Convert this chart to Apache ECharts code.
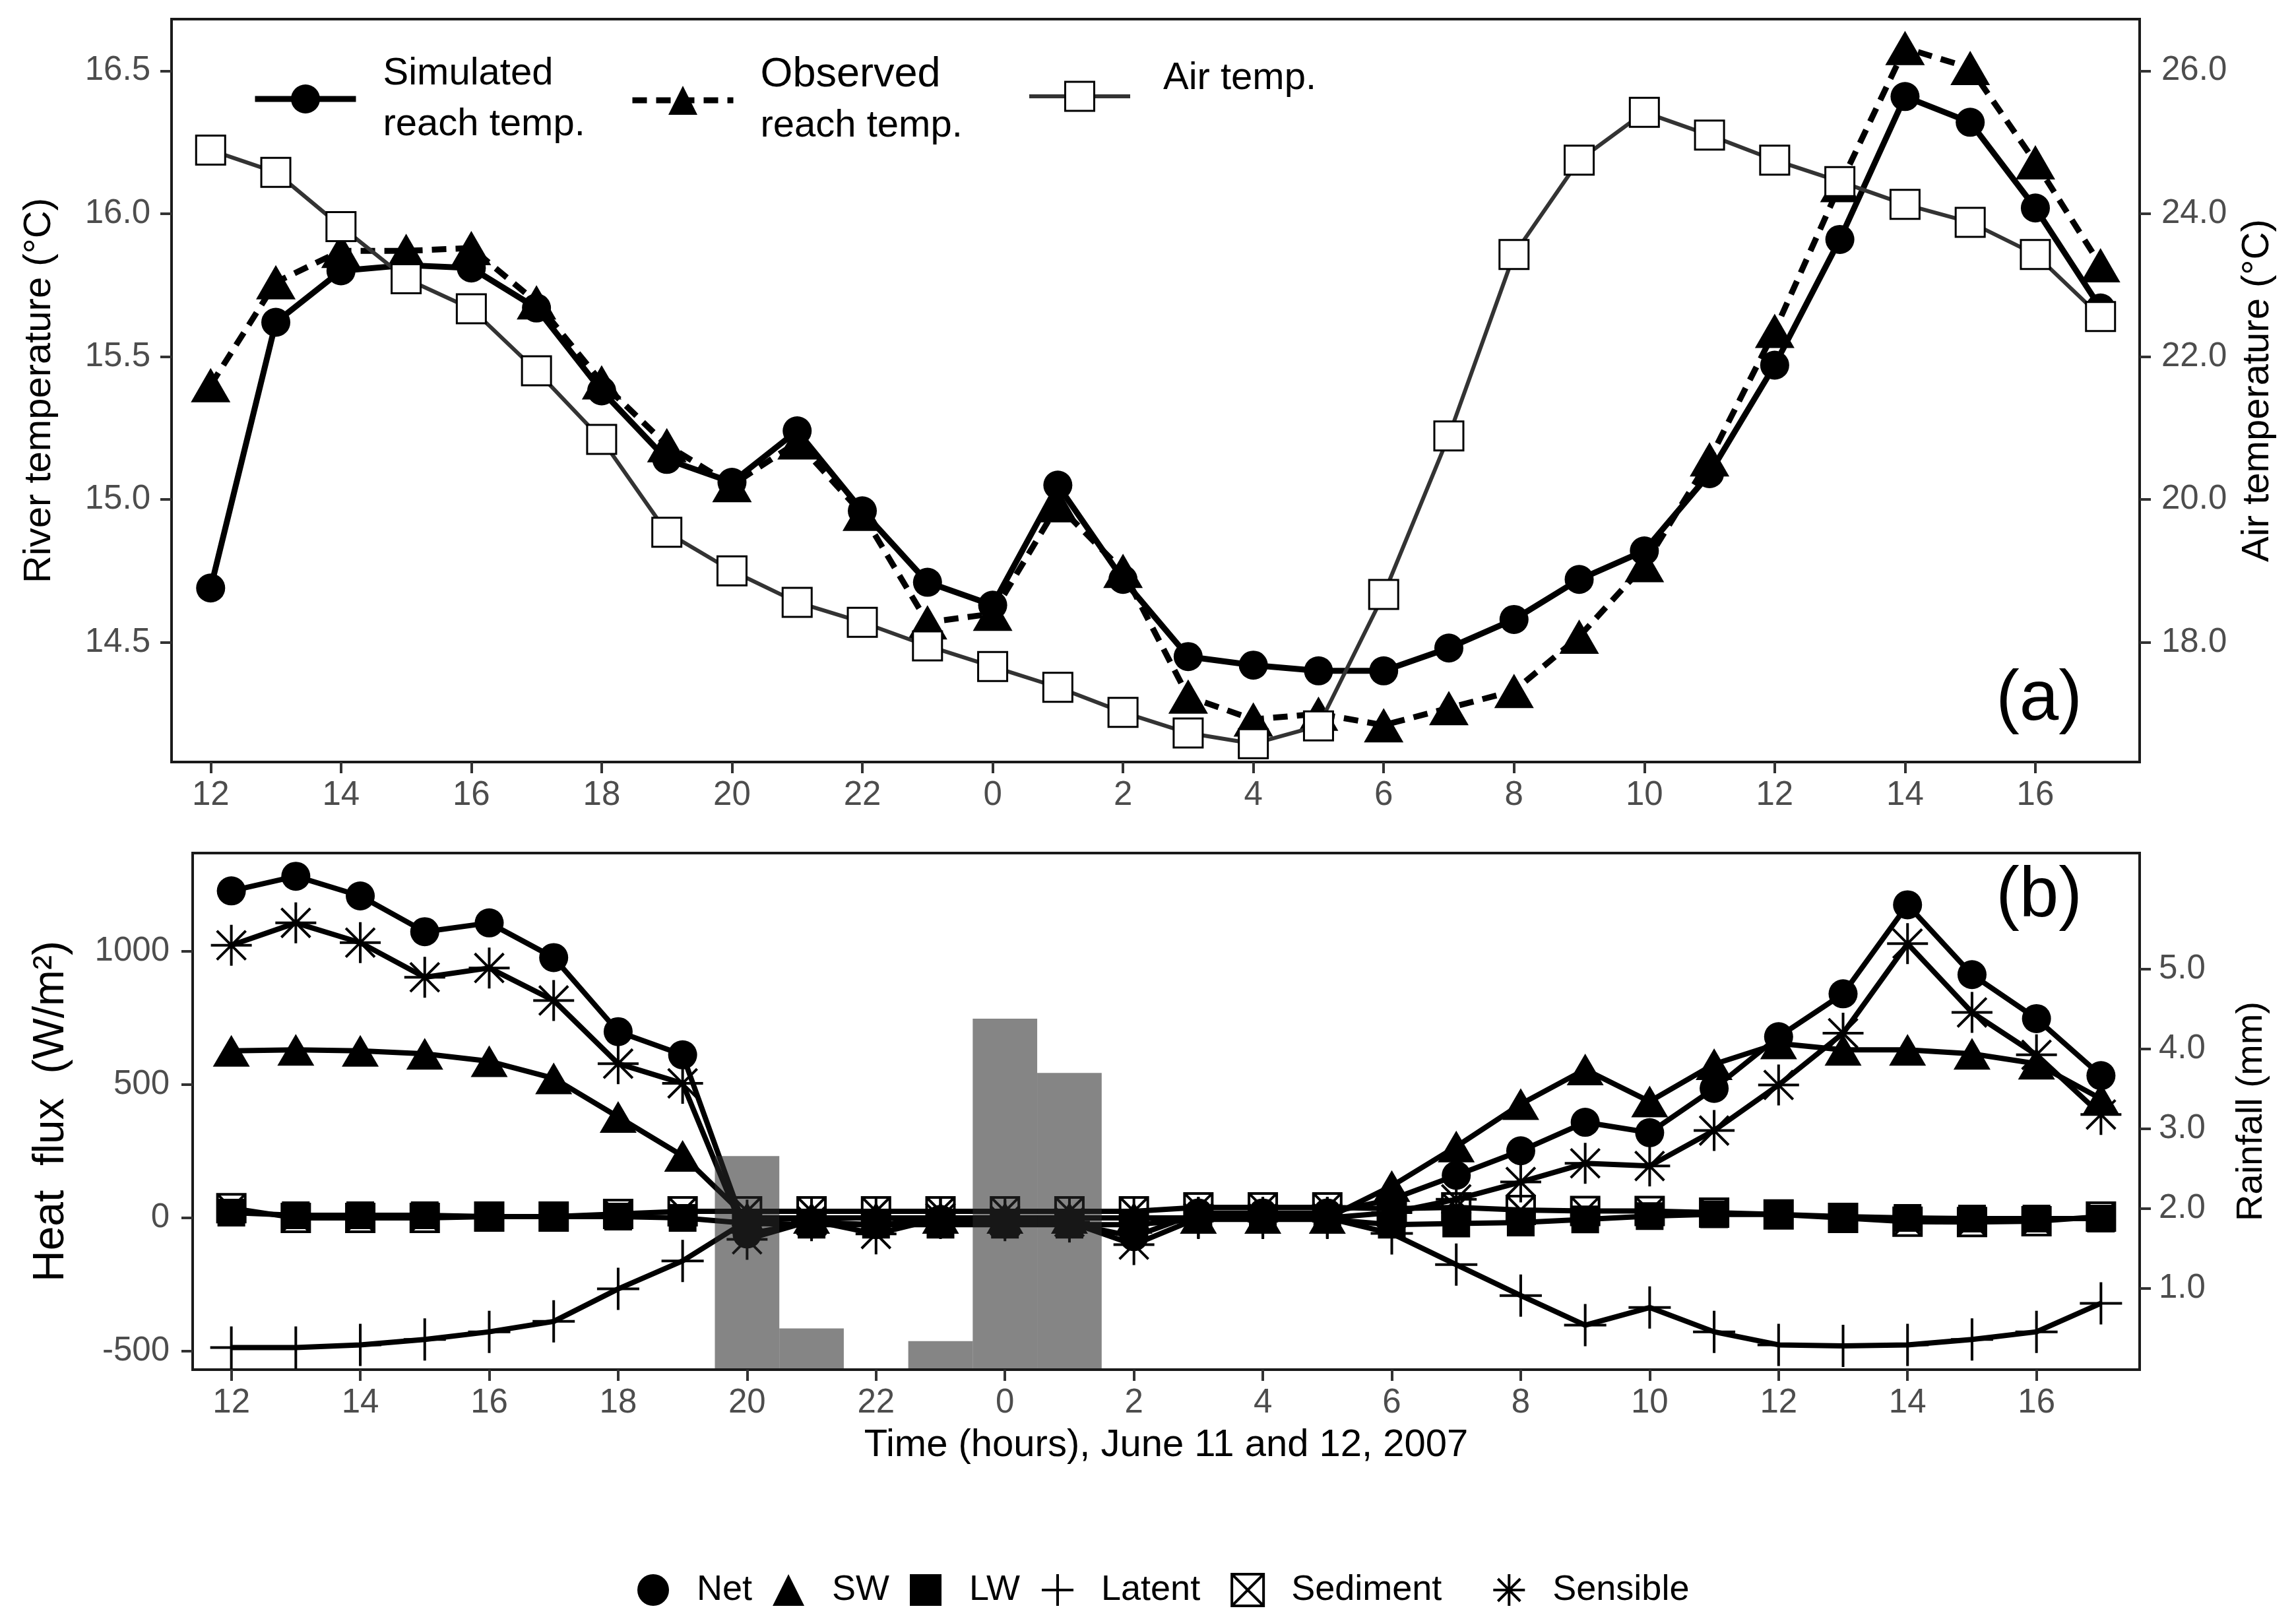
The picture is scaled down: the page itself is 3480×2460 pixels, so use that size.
<!DOCTYPE html>
<html>
<head>
<meta charset="utf-8">
<title>Reach temperature and heat flux, June 11-12 2007</title>
<script src="https://cdn.jsdelivr.net/npm/echarts@6/dist/echarts.min.js"></script>
<style>
  html, body { margin: 0; padding: 0; background: #fff; }
  #chart { width: 3480px; height: 2460px; }
</style>
</head>
<body>
<div id="chart"></div>
<script>
// hour of day for every sample, June 11 12:00 -> June 12 17:00
const hours = [12, 13, 14, 15, 16, 17, 18, 19, 20, 21, 22, 23, 0, 1, 2, 3, 4, 5, 6, 7, 8, 9, 10, 11, 12, 13, 14, 15, 16, 17];
const hourTicks = [0, 2, 4, 6, 8, 10, 12, 14, 16, 18, 20, 22, 24, 26, 28];
const riverTicks = [14.5, 15.0, 15.5, 16.0, 16.5];
const airTicks = [18, 20, 22, 24, 26];
const fluxTicks = [-500, 0, 500, 1000];
const rainTicks = [1, 2, 3, 4, 5];

// panel (a): temperatures
const simulatedTemp = [14.69, 15.62, 15.80, 15.82, 15.81, 15.67, 15.38, 15.14, 15.06, 15.24, 14.96, 14.71, 14.63, 15.05, 14.72, 14.45, 14.42, 14.40, 14.40, 14.48, 14.58, 14.72, 14.82, 15.09, 15.47, 15.91, 16.41, 16.32, 16.02, 15.67];
const observedTemp = [15.40, 15.76, 15.87, 15.87, 15.88, 15.69, 15.41, 15.19, 15.05, 15.20, 14.95, 14.57, 14.60, 14.98, 14.75, 14.31, 14.23, 14.25, 14.21, 14.27, 14.33, 14.52, 14.77, 15.14, 15.59, 16.10, 16.58, 16.51, 16.18, 15.82];
const airTemp = [24.89, 24.58, 23.82, 23.09, 22.67, 21.80, 20.84, 19.54, 19.00, 18.56, 18.28, 17.95, 17.66, 17.37, 17.02, 16.73, 16.58, 16.83, 18.67, 20.89, 23.43, 24.75, 25.42, 25.10, 24.75, 24.45, 24.13, 23.88, 23.43, 22.56];

// panel (b): heat flux terms (W/m2) and rainfall (mm)
const netFlux = [1227, 1282, 1208, 1074, 1107, 977, 699, 612, -60, -15, -25, -5, -15, -20, -70, 19, 19, 19, 70, 160, 252, 359, 320, 486, 680, 841, 1175, 913, 748, 534];
const swFlux = [627, 631, 627, 616, 588, 524, 379, 233, 0, 0, 0, 0, 0, 0, 0, 0, 0, 0, 120, 268, 427, 557, 437, 577, 655, 631, 631, 616, 579, 447];
const lwFlux = [20, 10, 10, 10, 5, 5, 5, 0, -20, -25, -25, -25, -25, -25, -25, -5, -5, -5, -25, -21, -17, -5, 7, 14, 13, 5, 0, -2, -2, -2];
const latentFlux = [-486, -486, -476, -456, -427, -388, -266, -161, -10, 0, 0, 0, 0, 0, 0, 0, 0, 0, -58, -175, -291, -402, -336, -427, -476, -480, -476, -456, -427, -320];
const sedimentFlux = [37, 0, 0, 0, 5, 5, 15, 25, 25, 25, 25, 25, 25, 25, 25, 40, 40, 40, 35, 40, 30, 26, 26, 20, 13, 0, -14, -15, -12, 5];
const sensibleFlux = [1023, 1107, 1033, 903, 938, 816, 579, 505, -80, -10, -60, 0, -10, -15, -100, 0, 0, 0, 20, 70, 135, 205, 195, 328, 499, 693, 1029, 771, 612, 388];
const rainfall = [0, 0, 0, 0, 0, 0, 0, 0, 2.66, 0.5, 0, 0.34, 4.38, 3.70, 0, 0, 0, 0, 0, 0, 0, 0, 0, 0, 0, 0, 0, 0, 0, 0];

const FONT = '"Liberation Sans", Arial, Helvetica, sans-serif';
const plusPath = 'path://M0,-1L0,1M-1,0L1,0';
const starPath = 'path://M0,-1L0,1M-1,0L1,0M-0.707,-0.707L0.707,0.707M-0.707,0.707L0.707,-0.707';
const boxXPath = 'path://M0,0L1,0L1,1L0,1ZM0,0L1,1M1,0L0,1';

const pts = arr => arr.map((v, i) => [i, v]);

const tick = { show: true, length: 17, lineStyle: { color: '#333', width: 4 } };
const labelStyle = { color: '#4d4d4d', fontSize: 51, fontFamily: FONT };

function xAxisFor(gridIndex, extra) {
    return Object.assign({
        type: 'value', gridIndex: gridIndex, min: -0.6, max: 29.6,
        axisLine: { show: false, onZero: false },
        axisTick: Object.assign({ customValues: hourTicks }, tick),
        axisLabel: Object.assign({ customValues: hourTicks, margin: 25, formatter: v => String(hours[v]) }, labelStyle),
        splitLine: { show: false }
    }, extra || {});
}

function yAxisFor(gridIndex, pos, min, max, ticks, digits, margin, name, nameGap, nameSize) {
    return {
        type: 'value', gridIndex: gridIndex, position: pos, min: min, max: max,
        axisLine: { show: false, onZero: false },
        axisTick: Object.assign({ customValues: ticks }, tick),
        axisLabel: Object.assign({ customValues: ticks, margin: margin, formatter: v => v.toFixed(digits) }, labelStyle),
        splitLine: { show: false },
        name: name, nameLocation: 'middle', nameGap: nameGap,
        nameTextStyle: { color: '#000', fontSize: nameSize, fontFamily: FONT }
    };
}

function fluxLine(name, data, symbol, size, itemStyle) {
    return {
        name: name, type: 'line', xAxisIndex: 1, yAxisIndex: 2, data: pts(data),
        symbol: symbol, symbolSize: size, showSymbol: true, z: 3,
        lineStyle: { color: '#000', width: 8 },
        itemStyle: itemStyle
    };
}

const solidMark = { color: '#000', borderColor: '#000', borderWidth: 0 };
const strokeMark = { color: '#000', borderColor: '#000', borderWidth: 4 };
// extra space after some legend labels, as in the figure
const legendGap = { Latent: ' ', Sediment: '   ' };

const chart = echarts.init(document.getElementById('chart'));
const option = {
    animation: false,
    backgroundColor: '#fff',
    textStyle: { fontFamily: FONT },
    grid: [
        { left: 260, top: 29, width: 2983, height: 1126, show: true, borderColor: '#1a1a1a', borderWidth: 4, backgroundColor: 'transparent' },
        { left: 292, top: 1293, width: 2951, height: 783, show: true, borderColor: '#1a1a1a', borderWidth: 4, backgroundColor: 'transparent' }
    ],
    xAxis: [
        xAxisFor(0),
        xAxisFor(1, {
            name: 'Time (hours), June 11 and 12, 2007', nameLocation: 'middle', nameGap: 86,
            nameTextStyle: { color: '#000', fontSize: 58, fontFamily: FONT }
        })
    ],
    yAxis: [
        yAxisFor(0, 'left', 14.081, 16.681, riverTicks, 1, 32, 'River temperature (\u00b0C)', 171, 58),
        yAxisFor(0, 'right', 16.324, 26.724, airTicks, 1, 33, 'Air temperature (\u00b0C)', 150, 58),
        yAxisFor(1, 'left', -569, 1369, fluxTicks, 0, 35, 'Heat  flux  (W/m\u00b2)', 181, 66),
        yAxisFor(1, 'right', -0.017, 6.455, rainTicks, 1, 29, 'Rainfall (mm)', 142, 56)
    ],
    legend: [
        {
            data: ['Simulated'], left: 382, top: 73, padding: 0, itemWidth: 153, itemHeight: 55,
            selectedMode: false, formatter: () => 'Simulated\nreach temp.',
            lineStyle: { width: 9, color: '#000' },
            textStyle: { color: '#000', fontSize: 58, lineHeight: 77, padding: [0, 0, 0, 36] }
        },
        {
            data: ['Observed'], left: 954, top: 82, padding: 0, itemWidth: 153, itemHeight: 55,
            selectedMode: false, formatter: () => '{a|Observed}\n{b|reach temp.}',
            lineStyle: { width: 9, color: '#000', type: [22, 14] },
            textStyle: {
                color: '#000', padding: [0, 0, 0, 36],
                rich: { a: { fontSize: 63, lineHeight: 77, color: '#000' }, b: { fontSize: 58, lineHeight: 77, color: '#000' } }
            }
        },
        {
            data: ['Air temp.'], left: 1557, top: 90, padding: 0, itemWidth: 153, itemHeight: 55,
            selectedMode: false, formatter: () => 'Air temp.\n ',
            lineStyle: { width: 6, color: '#333' },
            itemStyle: { color: '#fff', borderColor: '#000', borderWidth: 3 },
            textStyle: { color: '#000', fontSize: 58, lineHeight: 54, padding: [0, 0, 0, 45] }
        },
        {
            data: [
                { name: 'Net', icon: 'circle' },
                { name: 'SW', icon: 'triangle' },
                { name: 'LW', icon: 'rect' },
                { name: 'Latent', icon: plusPath, itemStyle: { borderWidth: 4, borderColor: '#000' } },
                { name: 'Sediment', icon: boxXPath, itemStyle: { borderWidth: 4, borderColor: '#000' } },
                { name: 'Sensible', icon: starPath, itemStyle: { borderWidth: 4, borderColor: '#000' } }
            ],
            left: 966, top: 2383, padding: 0, itemWidth: 48, itemHeight: 48, itemGap: 31,
            selectedMode: false,
            formatter: n => legendGap[n] ? '{t|' + n + '}{g|' + legendGap[n] + '}' : '{t|' + n + '}',
            textStyle: {
                color: '#000', fontSize: 54, padding: [0, 0, 0, 37],
                rich: {
                    t: { fontSize: 54, color: '#000' },
                    g: { fontSize: 54, color: '#000' }
                }
            }
        }
    ],
    graphic: [
        { type: 'text', right: 324, top: 1008, style: { text: '(a)', fontSize: 107, fontFamily: FONT, fill: '#000' } },
        { type: 'text', right: 324, top: 1306, style: { text: '(b)', fontSize: 107, fontFamily: FONT, fill: '#000' } }
    ],
    series: [
        {
            name: 'Observed', type: 'line', xAxisIndex: 0, yAxisIndex: 0, data: pts(observedTemp),
            symbol: 'triangle', symbolSize: [60, 52], z: 2,
            lineStyle: { color: '#000', width: 9, type: [22, 14] },
            itemStyle: solidMark
        },
        {
            name: 'Simulated', type: 'line', xAxisIndex: 0, yAxisIndex: 0, data: pts(simulatedTemp),
            symbol: 'circle', symbolSize: 44, z: 3,
            lineStyle: { color: '#000', width: 9 },
            itemStyle: solidMark
        },
        {
            name: 'Air temp.', type: 'line', xAxisIndex: 0, yAxisIndex: 1, data: pts(airTemp),
            symbol: 'rect', symbolSize: 44, z: 4,
            lineStyle: { color: '#333', width: 6 },
            itemStyle: { color: '#fff', borderColor: '#000', borderWidth: 3 }
        },
        fluxLine('Net', netFlux, 'circle', 44, solidMark),
        fluxLine('SW', swFlux, 'triangle', [56, 48], solidMark),
        fluxLine('LW', lwFlux, 'rect', 42, solidMark),
        fluxLine('Latent', latentFlux, plusPath, 64, strokeMark),
        fluxLine('Sediment', sedimentFlux, boxXPath, 42, { color: 'rgba(255,255,255,0)', borderColor: '#000', borderWidth: 4 }),
        fluxLine('Sensible', sensibleFlux, starPath, 62, strokeMark),
        {
            name: 'Rainfall', type: 'custom', xAxisIndex: 1, yAxisIndex: 3, z: 10,
            data: pts(rainfall),
            encode: { x: 0, y: 1 },
            renderItem: function (params, api) {
                const x = api.value(0), v = api.value(1);
                if (!v) return null;
                const top = api.coord([x - 0.5, v]);
                const base = api.coord([x + 0.5, 0]);
                return {
                    type: 'rect',
                    shape: { x: top[0], y: top[1], width: base[0] - top[0], height: base[1] - top[1] },
                    style: { fill: 'rgba(40,40,40,0.57)' }
                };
            }
        }
    ]
};
chart.setOption(option);
window.addEventListener('resize', () => chart.resize());
</script>
</body>
</html>
